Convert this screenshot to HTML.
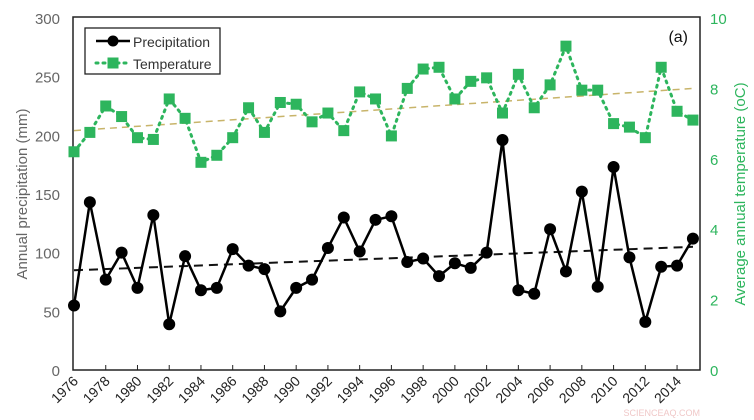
<!DOCTYPE html>
<html><head><style>
html,body{margin:0;padding:0;background:#fff;}
svg{display:block;font-family:"Liberation Sans",Arial,sans-serif;}
</style></head><body>
<svg id="s" width="754" height="420" viewBox="0 0 754 420" xmlns="http://www.w3.org/2000/svg"></svg>
<script>
var P=[55,143,77,100,70,132,39,97,68,70,103,89,86,50,70,77,104,130,101,128,131,92,95,80,91,87,100,196,68,65,120,84,152,71,173,96,41,88,89,112];
var T=[6.2,6.75,7.5,7.2,6.6,6.55,7.7,7.15,5.9,6.1,6.6,7.45,6.75,7.6,7.55,7.05,7.3,6.8,7.9,7.7,6.65,8.0,8.55,8.6,7.7,8.2,8.3,7.3,8.4,7.45,8.1,9.2,7.95,7.95,7.0,6.9,6.6,8.6,7.35,7.1];
function X(i){return 74+i*15.87;}
function YP(v){return 370-v*352/300;}
function YT(t){return 370-t*35.2;}
var h='';
h+='<rect x="73" y="17" width="627" height="353" fill="none" stroke="#222" stroke-width="1.5"/>';
for(var v=0;v<=300;v+=50){h+='<text x="60" y="'+(YP(v)+6)+'" text-anchor="end" font-size="15" fill="#666">'+v+'</text>';}
for(var t=0;t<=10;t+=2){h+='<text x="710" y="'+(YT(t)+6)+'" font-size="15" fill="#2db55d">'+t+'</text>';}
for(var i=0;i<40;i+=2){var x=X(i);if(i>0)h+='<line x1="'+x+'" y1="370" x2="'+x+'" y2="365" stroke="#222"/>';
h+='<text transform="translate('+(x+5)+',382) rotate(-45)" text-anchor="end" font-size="14" fill="#222">'+(1976+i)+'</text>';}
h+='<text transform="translate(27,194) rotate(-90)" text-anchor="middle" font-size="15" fill="#666">Annual precipitation (mm)</text>';
h+='<text transform="translate(745,194) rotate(-90)" text-anchor="middle" font-size="15" fill="#2db55d">Average annual temperature (oC)</text>';
h+='<line x1="74" y1="'+YT(6.8)+'" x2="693" y2="'+YT(8.0)+'" stroke="#c8b46a" stroke-width="1.5" stroke-dasharray="7,5"/>';
h+='<line x1="74" y1="'+YP(85)+'" x2="693" y2="'+YP(105)+'" stroke="#111" stroke-width="2" stroke-dasharray="9,6"/>';
var pt='',pp='';for(var i=0;i<40;i++){pt+=X(i)+','+YT(T[i])+' ';pp+=X(i)+','+YP(P[i])+' ';}
h+='<polyline points="'+pt+'" fill="none" stroke="#2db55d" stroke-width="3" stroke-dasharray="2,5" stroke-linecap="round"/>';
for(var i=0;i<40;i++)h+='<rect x="'+(X(i)-5.5)+'" y="'+(YT(T[i])-5.5)+'" width="11" height="11" fill="#2db55d"/>';
h+='<polyline points="'+pp+'" fill="none" stroke="#000" stroke-width="2.5"/>';
for(var i=0;i<40;i++)h+='<circle cx="'+X(i)+'" cy="'+YP(P[i])+'" r="6" fill="#000"/>';
h+='<rect x="85" y="28" width="135" height="46" fill="#fff" stroke="#222" stroke-width="1.3"/>';
h+='<line x1="96" y1="41" x2="130" y2="41" stroke="#000" stroke-width="2.5"/><circle cx="113" cy="41" r="5.5" fill="#000"/>';
h+='<text x="133" y="47" font-size="14" fill="#333">Precipitation</text>';
h+='<line x1="96" y1="63" x2="130" y2="63" stroke="#2db55d" stroke-width="3" stroke-dasharray="2,5" stroke-linecap="round"/><rect x="107.5" y="57.5" width="11" height="11" fill="#2db55d"/>';
h+='<text x="133" y="69" font-size="14" fill="#333">Temperature</text>';
h+='<text x="688" y="42" text-anchor="end" font-size="16" fill="#111">(a)</text>';
h+='<text x="700" y="416" text-anchor="end" font-size="9" fill="#f0c8c8">SCIENCEAQ.COM</text>';
document.getElementById('s').innerHTML=h;
</script>
</body></html>
